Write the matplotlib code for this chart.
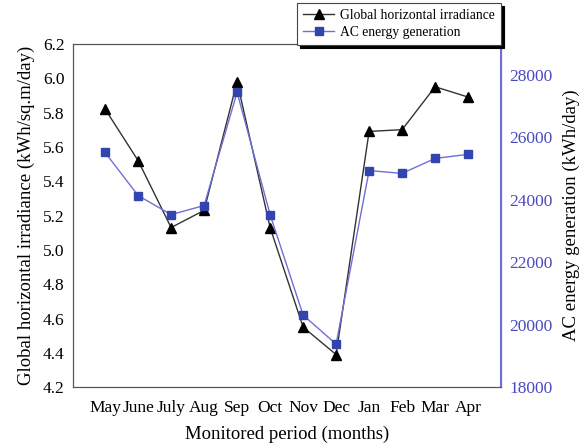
import matplotlib
matplotlib.use("Agg")
import matplotlib.pyplot as plt

plt.rcParams['font.family'] = ['Liberation Serif', 'DejaVu Serif']

months = ["May", "June", "July", "Aug", "Sep", "Oct", "Nov", "Dec",
          "Jan", "Feb", "Mar", "Apr"]
ghi = [5.82, 5.52, 5.13, 5.23, 5.98, 5.13, 4.55, 4.39, 5.69, 5.70, 5.95, 5.89]
ac_energy = [25520, 24140, 23530, 23820, 27450, 23530, 20310, 19380,
             24940, 24850, 25330, 25460]

blue_line = '#6f6fd8'
blue_mark = '#3344b0'
blue_text = '#4a4ac0'

fig = plt.figure(figsize=(5.8, 4.43), dpi=100)
ax = fig.add_axes([0.126, 0.126, 0.738, 0.775])
x = list(range(len(months)))

l1, = ax.plot(x, ghi, color='#333333', lw=1.0, marker='^', ms=7,
              mfc='black', mec='black', label='Global horizontal irradiance')
ax.set_ylim(4.2, 6.2)
ax.set_xlim(-0.97, 12.0)
ax.set_yticks([4.2, 4.4, 4.6, 4.8, 5.0, 5.2, 5.4, 5.6, 5.8, 6.0, 6.2])
ax.set_yticklabels([f"{v:.1f}" for v in ax.get_yticks()])
ax.set_xticks(x)
ax.set_xticklabels(months)
ax.tick_params(length=0, labelsize=12.5)
ax.tick_params(axis='y', pad=6)
ax.tick_params(axis='x', pad=9)
ax.set_ylabel("Global horizontal irradiance (kWh/sq.m/day)", fontsize=13.5,
              labelpad=6)
ax.set_xlabel("Monitored period (months)", fontsize=13.5, labelpad=7)
for s in ax.spines.values():
    s.set_color('#555555')

ax2 = ax.twinx()
l2, = ax2.plot(x, ac_energy, color=blue_line, lw=1.0, marker='s', ms=6,
               mfc=blue_mark, mec=blue_mark, label='AC energy generation')
ax2.set_ylim(18000, 29000)
ax2.set_yticks([18000, 20000, 22000, 24000, 26000, 28000])
ax2.tick_params(length=0, labelsize=12.5, pad=6, labelcolor=blue_text)
ax2.set_ylabel("AC energy generation (kWh/day)", fontsize=13.5, labelpad=7)
ax2.spines['right'].set_color(blue_line)
ax2.spines['right'].set_linewidth(1.5)
for side in ['left', 'top', 'bottom']:
    ax2.spines[side].set_color('#555555')

leg = fig.legend(handles=[l1, l2], loc='upper left',
                 bbox_to_anchor=(297 / 580, 1 - 3 / 443),
                 fontsize=9.8, frameon=True, fancybox=False,
                 shadow={'color': 'black', 'alpha': 1.0},
                 handlelength=2.3, borderpad=0.45, labelspacing=0.3,
                 handletextpad=0.4, borderaxespad=0)
leg.get_frame().set_edgecolor('#444444')
leg.get_frame().set_linewidth(0.8)

fig.savefig("out.png", dpi=100)
